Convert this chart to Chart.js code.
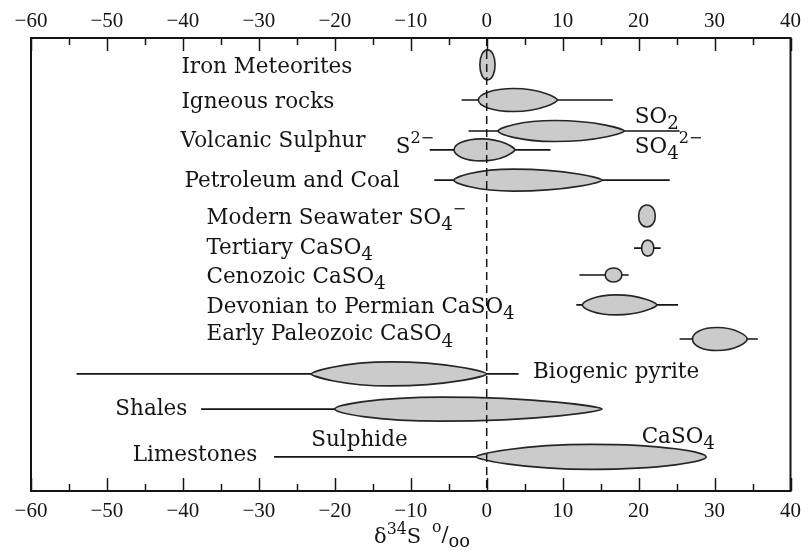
<!DOCTYPE html>
<html>
<head>
<meta charset="utf-8">
<script src="https://cdn.jsdelivr.net/npm/chart.js@4/dist/chart.umd.min.js"></script>
<style>
  html, body { margin: 0; background: #fff; }
  #wrap { width: 809px; height: 551px; }
</style>
</head>
<body>
<div id="wrap"><canvas id="c"></canvas></div>
<script>
// δ34S ranges (per mil), rows from top to bottom
const rowNames = ['Iron Meteorites', 'Igneous rocks', 'Volcanic SO2', 'Volcanic S2-', 'Petroleum and Coal',
  'Modern Seawater', 'Tertiary', 'Cenozoic', 'Devonian to Permian', 'Early Paleozoic',
  'Biogenic pyrite', 'Shales', 'Limestones'];
// whisker (full range); null = none drawn
const rangeLo = [null, -3.3, -2.4, -7.5, -6.9, null, 19.4, 12.2, 11.8, 25.4, -54, -37.6, -28];
const rangeHi = [null, 16.6, 25.4, 8.4, 24.1, null, 22.9, 18.7, 25.2, 35.7, 4.2, 15.2, 28.9];
// common spread (shaded lens)
const coreLo = [-0.9, -1.1, 1.5, -4.3, -4.3, 20.0, 20.4, 15.6, 12.6, 27.1, -23.1, -20, -1.4];
const coreHi = [1.1, 9.3, 18.1, 3.7, 15.2, 22.2, 22.0, 17.8, 22.4, 34.3, 0, 15.2, 28.9];
const xTicks = [-60, -50, -40, -30, -20, -10, 0, 10, 20, 30, 40];

// layout only: vertical slot of each row and lens look
const rowPos = [0.77, 1.78, 2.67, 3.21, 4.08, 5.11, 6.03, 6.8, 7.66, 8.64, 9.64, 10.65, 12.02];
const lensH = [30, 23, 21, 22, 22, 22, 16, 14, 20, 23, 24, 24, 25];
const lensPeak = [0.5, 0.45, 0.45, 0.45, 0.4, 0.5, 0.5, 0.5, 0.45, 0.45, 0.45, 0.4, 0.5];
const lensRound = [[1, 1], [0.9, 0.3], [0.5, 0.3], [0.9, 0.35], [0.5, 0.3], [1, 1], [1, 1], [1, 1],
  [0.6, 0.3], [1, 0.5], [0.3, 0.3], [0.6, 0.3], [0.3, 0.7]];

// annotations: text with _{sub} / ^{sup}, placed in data units
const notes = [
  { t: 'Iron Meteorites', x: -40.2, y: 0.83 },
  { t: 'Igneous rocks', x: -40.2, y: 1.84 },
  { t: 'Volcanic Sulphur', x: -40.3, y: 2.98 },
  { t: 'Petroleum and Coal', x: -39.8, y: 4.13 },
  { t: 'Modern Seawater SO_{4}^{−}', x: -36.9, y: 5.17 },
  { t: 'Tertiary CaSO_{4}', x: -36.9, y: 6.03 },
  { t: 'Cenozoic CaSO_{4}', x: -36.9, y: 6.86 },
  { t: 'Devonian to Permian CaSO_{4}', x: -36.9, y: 7.72 },
  { t: 'Early Paleozoic CaSO_{4}', x: -36.9, y: 8.52 },
  { t: 'Biogenic pyrite', x: 6.1, y: 9.61 },
  { t: 'Shales', x: -48.9, y: 10.65 },
  { t: 'Limestones', x: -46.6, y: 11.97 },
  { t: 'Sulphide', x: -23.1, y: 11.54 },
  { t: 'CaSO_{4}', x: 20.4, y: 11.45 },
  { t: 'SO_{2}', x: 19.5, y: 2.27 },
  { t: 'SO_{4}^{2−}', x: 19.5, y: 3.13 },
  { t: 'S^{2−}', x: -6.9, y: 3.13, right: true },
];

const INK = '#151515';
const SERIF = '"DejaVu Serif", serif';

// whisker segments, broken where the lens sits
const whiskers = [];
rowNames.forEach((_, i) => {
  if (rangeLo[i] === null) return;
  const y = rowPos[i];
  whiskers.push({ x: rangeLo[i], y }, { x: coreLo[i], y }, { x: null, y: null });
  whiskers.push({ x: coreHi[i], y }, { x: rangeHi[i], y }, { x: null, y: null });
});

function lensPath(ctx, x0, x1, yc, h, peak, r0, r1) {
  const k = 0.5523, kx = 0.62, a = h / 2;
  const xp = x0 + (x1 - x0) * peak;
  const wl = xp - x0, wr = x1 - xp;
  ctx.beginPath();
  ctx.moveTo(x0, yc);
  ctx.bezierCurveTo(x0, yc - a * k * r0, xp - wl * kx, yc - a, xp, yc - a);
  ctx.bezierCurveTo(xp + wr * kx, yc - a, x1, yc - a * k * r1, x1, yc);
  ctx.bezierCurveTo(x1, yc + a * k * r1, xp + wr * kx, yc + a, xp, yc + a);
  ctx.bezierCurveTo(xp - wl * kx, yc + a, x0, yc + a * k * r0, x0, yc);
  ctx.closePath();
}

function richText(ctx, str, x, y, size, right) {
  const parts = [];
  const re = /([_^])\{([^}]*)\}|([^_^]+)/g;
  let m;
  while ((m = re.exec(str))) {
    if (m[3]) parts.push({ t: m[3], s: size, dy: 0 });
    else if (m[1] === '_') parts.push({ t: m[2], s: size * 0.85, dy: size * 0.32 });
    else parts.push({ t: m[2], s: size * 0.75, dy: -size * 0.38 });
  }
  let w = 0;
  parts.forEach(p => { ctx.font = `${p.s}px ${SERIF}`; p.w = ctx.measureText(p.t).width; w += p.w; });
  let cx = right ? x - w : x;
  ctx.textAlign = 'left';
  ctx.textBaseline = 'middle';
  parts.forEach(p => {
    ctx.font = `${p.s}px ${SERIF}`;
    ctx.fillText(p.t, cx, y + p.dy);
    cx += p.w;
  });
}

const lensPlugin = {
  id: 'lenses',
  beforeDatasetsDraw(chart) {
    const { ctx, scales: { x, y } } = chart;
    ctx.save();
    rowNames.forEach((_, i) => {
      const x0 = x.getPixelForValue(coreLo[i]);
      const x1 = x.getPixelForValue(coreHi[i]);
      const yc = y.getPixelForValue(rowPos[i]);
      lensPath(ctx, x0, x1, yc, lensH[i], lensPeak[i], lensRound[i][0], lensRound[i][1]);
      ctx.fillStyle = '#cbcbcb';
      ctx.fill();
      ctx.lineWidth = 1.6;
      ctx.strokeStyle = '#262626';
      ctx.stroke();
    });
    ctx.restore();
  },
  afterDraw(chart) {
    const { ctx, chartArea: a, scales: { x, y, x2 } } = chart;
    ctx.save();
    // frame
    ctx.strokeStyle = INK;
    ctx.lineWidth = 2;
    ctx.strokeRect(a.left, a.top, a.right - a.left, a.bottom - a.top);
    // inward ticks, top and bottom
    ctx.lineWidth = 1.5;
    [x, x2].forEach(sc => {
      sc.ticks.forEach(t => {
        const px = Math.round(sc.getPixelForValue(t.value)) + 0.5;
        const len = t.value % 10 === 0 ? 13 : 7;
        ctx.beginPath();
        if (sc.position === 'top') { ctx.moveTo(px, a.top); ctx.lineTo(px, a.top + len); }
        else { ctx.moveTo(px, a.bottom); ctx.lineTo(px, a.bottom - len); }
        ctx.stroke();
      });
    });
    // annotations
    ctx.fillStyle = INK;
    notes.forEach(n => richText(ctx, n.t, x.getPixelForValue(n.x), y.getPixelForValue(n.y), 21.5, n.right));
    // axis title
    richText(ctx, 'δ^{34}S  ', 374, 538, 21, false);
    richText(ctx, '^{o}/_{oo}', 432, 536, 21, false);
    ctx.restore();
  }
};

const tickFmt = v => (xTicks.includes(v) ? String(v).replace('-', '−') : '');

const axisBase = {
  type: 'linear',
  min: -60,
  max: 40,
  grid: { display: false, drawTicks: false },
  border: { display: false },
  ticks: {
    stepSize: 5,
    autoSkip: false,
    maxRotation: 0,
    color: INK,
    font: { family: '"Liberation Serif", serif', size: 21 },
    callback: tickFmt,
  },
};

new Chart(document.getElementById('c'), {
  type: 'scatter',
  data: {
    datasets: [
      {
        label: 'range',
        data: whiskers,
        showLine: true,
        spanGaps: false,
        borderColor: INK,
        borderWidth: 1.6,
        pointRadius: 0,
      },
      {
        label: 'zero',
        data: [{ x: 0, y: 0 }, { x: 0, y: 13 }],
        showLine: true,
        borderColor: INK,
        borderWidth: 1.5,
        borderDash: [8, 5],
        pointRadius: 0,
      },
    ],
  },
  options: {
    responsive: true,
    maintainAspectRatio: false,
    animation: false,
    events: [],
    layout: { padding: { left: 31, right: 12, top: 0, bottom: 0 } },
    plugins: { legend: { display: false }, tooltip: { enabled: false } },
    scales: {
      x: {
        ...axisBase,
        position: 'bottom',
        ticks: { ...axisBase.ticks, padding: 8 },
        afterFit: s => { s.height = 60; },
      },
      x2: {
        ...axisBase,
        position: 'top',
        ticks: { ...axisBase.ticks, padding: 4 },
        afterFit: s => { s.height = 38; },
      },
      y: { type: 'linear', display: false, min: 0, max: 13, reverse: true },
    },
  },
  plugins: [lensPlugin],
});
</script>
</body>
</html>
